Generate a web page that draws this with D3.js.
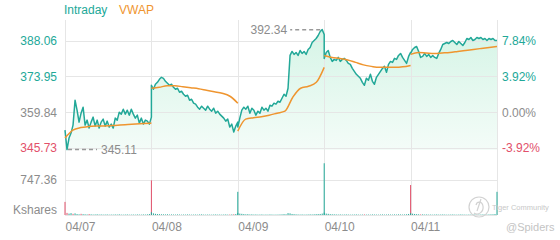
<!DOCTYPE html>
<html>
<head>
<meta charset="utf-8">
<script src="https://cdn.jsdelivr.net/npm/d3@7"></script>
<style>
  body { margin: 0; background: #fff; }
  svg { font-family: "Liberation Sans", Arial, sans-serif; }
</style>
</head>
<body>
<svg id="chart"></svg>
<script>
const days = ['04/07', '04/08', '04/09', '04/10', '04/11'];
const prevClose = 359.84;
const priceTicks = [388.06, 373.95, 359.84, 345.73];
const pctTicks = ['7.84%', '3.92%', '0.00%', '-3.92%'];
const volumeTick = 747.36;

// intraday price, 44 samples per session
const price1 = [352.78, 345.11, 349.65, 351.61, 354.74, 364.54, 360.62, 355.92, 359.45, 361.80, 354.74, 356.70, 353.57, 355.92, 357.88, 354.35, 356.70, 353.57, 355.92, 357.10, 354.35, 356.31, 353.96, 355.14, 353.57, 357.49, 356.70, 359.84, 359.06, 361.02, 359.06, 360.62, 358.66, 361.02, 359.06, 357.49, 358.66, 355.53, 357.49, 355.14, 356.70, 356.31, 355.14, 357.88];
const price2 = [370.42, 368.86, 370.82, 371.60, 372.78, 373.56, 373.17, 371.99, 371.21, 370.42, 370.82, 369.64, 368.86, 369.25, 367.68, 368.07, 366.90, 366.11, 366.50, 364.54, 364.94, 363.37, 362.98, 361.80, 361.02, 362.19, 361.41, 360.62, 362.19, 361.02, 360.23, 361.41, 359.45, 360.23, 359.06, 358.27, 357.49, 356.31, 357.10, 353.96, 355.14, 352.00, 354.35, 355.92];
const price3 = [353.96, 357.49, 360.62, 361.80, 361.02, 362.19, 359.45, 361.41, 360.62, 358.66, 360.23, 359.45, 361.80, 360.62, 361.41, 360.23, 362.58, 362.19, 363.37, 362.98, 364.15, 363.76, 365.33, 366.90, 366.11, 369.25, 382.18, 383.75, 382.58, 383.36, 382.18, 384.14, 382.97, 383.75, 382.58, 384.54, 385.32, 387.28, 388.06, 388.85, 390.02, 391.59, 392.34, 390.42];
const price4 = [381.01, 383.36, 384.14, 381.40, 379.83, 380.62, 380.22, 381.40, 379.83, 380.62, 381.01, 380.22, 379.05, 378.66, 377.09, 375.91, 374.74, 373.95, 373.17, 371.60, 370.42, 373.17, 372.38, 374.74, 371.99, 370.82, 373.56, 374.74, 375.91, 377.09, 377.87, 375.52, 378.66, 379.83, 379.44, 381.01, 380.62, 382.18, 382.97, 381.40, 380.22, 379.05, 381.79, 383.36];
const price5 = [382.97, 384.54, 385.32, 385.71, 383.75, 381.40, 381.79, 382.97, 381.79, 382.58, 381.40, 382.18, 381.40, 381.01, 382.97, 384.54, 386.50, 386.89, 387.28, 386.89, 387.67, 388.06, 387.28, 386.50, 387.67, 386.89, 386.10, 387.28, 388.85, 388.46, 389.24, 388.06, 388.46, 389.24, 388.85, 389.24, 388.46, 388.85, 388.06, 388.85, 388.46, 388.85, 388.06, 388.06];

// VWAP, resets every session
const vwap1 = [349.65, 352.78, 353.76, 354.16, 354.35, 354.43, 354.55, 354.74, 354.94, 355.14, 355.33, 355.53];
const vwap2 = [369.25, 369.64, 370.23, 370.23, 369.84, 369.44, 369.05, 368.46, 367.88, 367.29, 366.11, 363.37];
const vwap3 = [352.39, 357.10, 357.68, 358.08, 358.66, 359.45, 360.23, 365.72, 369.25, 370.03, 371.60, 377.48];
const vwap4 = [382.18, 381.40, 381.01, 380.42, 379.44, 378.46, 377.87, 377.48, 377.48, 377.48, 377.68, 378.26];
const vwap5 = [382.58, 383.36, 383.16, 382.97, 383.16, 383.36, 383.75, 384.14, 384.54, 384.93, 385.32, 385.71];

// volume in Kshares, same samples as price
const vol1 = [280, 45, 30, 40, 25, 35, 20, 15, 25, 18, 15, 12, 20, 14, 10, 12, 15, 10, 12, 9, 10, 12, 8, 10, 9, 12, 10, 14, 9, 8, 10, 12, 8, 9, 10, 8, 12, 10, 9, 12, 10, 14, 20, 740];
const vol2 = [60, 35, 25, 20, 18, 15, 14, 12, 15, 10, 12, 10, 9, 12, 10, 8, 10, 9, 12, 10, 8, 9, 10, 8, 12, 14, 9, 8, 10, 9, 8, 10, 12, 9, 10, 8, 10, 12, 9, 10, 12, 15, 20, 495];
const vol3 = [45, 30, 25, 20, 15, 18, 12, 14, 10, 12, 9, 10, 12, 8, 10, 9, 12, 10, 8, 9, 10, 12, 14, 18, 15, 40, 35, 22, 18, 14, 12, 10, 12, 9, 10, 12, 14, 12, 15, 18, 20, 22, 30, 1105];
const vol4 = [50, 30, 25, 18, 15, 14, 12, 10, 12, 9, 10, 12, 10, 8, 9, 10, 12, 9, 8, 10, 12, 9, 10, 8, 12, 10, 9, 8, 10, 12, 9, 10, 12, 10, 9, 12, 10, 14, 12, 10, 12, 15, 22, 640];
const vol5 = [40, 28, 22, 18, 15, 12, 14, 10, 12, 9, 10, 8, 10, 12, 9, 10, 12, 10, 8, 9, 10, 12, 9, 8, 10, 12, 10, 9, 8, 10, 9, 12, 10, 8, 9, 10, 12, 10, 9, 12, 14, 15, 20, 495];
// [session, sample] of bars drawn red
const volDown = [[0, 0], [0, 1], [0, 4], [0, 8], [0, 12], [0, 43], [1, 39], [1, 41], [3, 20], [3, 43], [4, 5]];

const prices = [price1, price2, price3, price4, price5];
const vwaps = [vwap1, vwap2, vwap3, vwap4, vwap5];
const volumes = [vol1, vol2, vol3, vol4, vol5];

const teal = '#22a898', orange = '#ef952f', red = '#e2506a', grey = '#8c8c8c', grid = '#e6e6e6';
const W = 560, H = 240;
const plotLeft = 65, plotRight = 497, plotTop = 20, priceBottom = 150, volTop = 145, volBottom = 215;

const svg = d3.select('#chart').attr('width', W).attr('height', H);

const x = d3.scaleLinear().domain([0, days.length]).range([plotLeft, plotRight]);
const y = d3.scaleLinear().domain([priceTicks[3], priceTicks[0]]).range([148, 40.5]);
const yVol = d3.scaleLinear().domain([0, volumeTick * 2]).range([volBottom, volTop]);

const tone = p => p > prevClose ? teal : p < prevClose ? red : grey;

const points = prices.flatMap((day, d) => day.map((p, i) => ({
  t: d + i / (day.length - 1),
  p,
  v: volumes[d][i],
  down: volDown.some(([dd, ii]) => dd === d && ii === i)
})));

// fill gradient
const grad = svg.append('defs').append('linearGradient')
  .attr('id', 'fill').attr('gradientUnits', 'userSpaceOnUse')
  .attr('x1', 0).attr('x2', 0).attr('y1', plotTop).attr('y2', priceBottom);
grad.append('stop').attr('offset', 0).attr('stop-color', '#d3f4e5');
grad.append('stop').attr('offset', 1).attr('stop-color', '#f4fcf8');

svg.append('path')
  .datum(points)
  .attr('fill', 'url(#fill)')
  .attr('d', d3.area().x(d => x(d.t)).y0(priceBottom).y1(d => y(d.p)));

// grid
const gridG = svg.append('g').attr('stroke', grid).attr('stroke-width', 1);
gridG.selectAll('.v')
  .data(d3.range(days.length + 1))
  .enter().append('line')
  .attr('x1', d => Math.round(x(d)) + 0.5).attr('x2', d => Math.round(x(d)) + 0.5)
  .attr('y1', plotTop).attr('y2', volBottom);
gridG.selectAll('.h')
  .data(priceTicks.map(y).concat([yVol(volumeTick), yVol(0)]))
  .enter().append('line')
  .attr('x1', plotLeft).attr('x2', plotRight)
  .attr('y1', d => Math.round(d) + 0.5).attr('y2', d => Math.round(d) + 0.5);

// volume bars
svg.append('g')
  .selectAll('rect')
  .data(points)
  .enter().append('rect')
  .attr('x', d => x(d.t) - 0.5)
  .attr('width', 1)
  .attr('y', d => yVol(d.v))
  .attr('height', d => yVol(0) - yVol(d.v))
  .attr('fill', d => d.down ? red : teal);

// price line
svg.append('path')
  .datum(points)
  .attr('fill', 'none')
  .attr('stroke', teal)
  .attr('stroke-width', 1.5)
  .attr('stroke-linejoin', 'round')
  .attr('d', d3.line().x(d => x(d.t)).y(d => y(d.p)));

// vwap lines
const vwapLine = d3.line().x(d => x(d.t)).y(d => y(d.p)).curve(d3.curveMonotoneX);
svg.append('g')
  .selectAll('path')
  .data(vwaps.map((day, d) => day.map((p, i) => ({t: d + i / (day.length - 1), p}))))
  .enter().append('path')
  .attr('fill', 'none')
  .attr('stroke', orange)
  .attr('stroke-width', 1.5)
  .attr('d', vwapLine);

// high / low markers
const hi = d3.greatest(points, d => d.p);
const lo = d3.least(points, d => d.p);
const marker = svg.append('g').attr('font-size', 12).attr('fill', grey);
marker.append('line')
  .attr('x1', x(hi.t) - 2).attr('x2', x(hi.t) - 32)
  .attr('y1', y(hi.p)).attr('y2', y(hi.p))
  .attr('stroke', '#999').attr('stroke-width', 1.5).attr('stroke-dasharray', '4,3');
marker.append('text')
  .attr('x', x(hi.t) - 35).attr('y', y(hi.p)).attr('dy', '0.35em')
  .attr('text-anchor', 'end').text(hi.p.toFixed(2));
marker.append('line')
  .attr('x1', x(lo.t) + 1).attr('x2', x(lo.t) + 30)
  .attr('y1', y(lo.p)).attr('y2', y(lo.p))
  .attr('stroke', '#999').attr('stroke-width', 1.5).attr('stroke-dasharray', '4,3');
marker.append('text')
  .attr('x', x(lo.t) + 34).attr('y', y(lo.p)).attr('dy', '0.35em')
  .text(lo.p.toFixed(2));

// axes
const leftAxis = svg.append('g')
  .attr('transform', `translate(${plotLeft},0)`)
  .call(d3.axisLeft(y).tickValues(priceTicks).tickSize(0).tickPadding(8).tickFormat(d3.format('.2f')));
const rightAxis = svg.append('g')
  .attr('transform', `translate(${plotRight},0)`)
  .call(d3.axisRight(y).tickValues(priceTicks).tickSize(0).tickPadding(5).tickFormat((d, i) => pctTicks[i]));
[leftAxis, rightAxis].forEach(g => {
  g.select('.domain').remove();
  g.attr('font-family', null).attr('font-size', 12);
  g.selectAll('text').attr('fill', d => tone(d));
});

const volAxis = svg.append('g')
  .attr('transform', `translate(${plotLeft},0)`)
  .call(d3.axisLeft(yVol).tickValues([volumeTick]).tickSize(0).tickPadding(8).tickFormat(d3.format('.2f')));
volAxis.select('.domain').remove();
volAxis.attr('font-family', null).attr('font-size', 12);
volAxis.selectAll('text').attr('fill', grey);
svg.append('text')
  .attr('x', plotLeft - 8).attr('y', 210).attr('dy', '0.35em')
  .attr('text-anchor', 'end').attr('font-size', 12).attr('fill', grey)
  .text('Kshares');

const xAxis = svg.append('g')
  .attr('transform', `translate(0,${volBottom})`)
  .call(d3.axisBottom(x).tickValues(d3.range(days.length)).tickSize(0).tickPadding(7.5).tickFormat(i => days[i]));
xAxis.select('.domain').remove();
xAxis.attr('font-family', null).attr('font-size', 12);
xAxis.selectAll('text').attr('fill', grey).attr('text-anchor', 'start');

// legend
const legend = svg.append('g').attr('font-size', 12);
legend.append('text').attr('x', plotLeft - 1).attr('y', 10).attr('dy', '0.35em').attr('fill', teal).text('Intraday');
legend.append('text').attr('x', 119).attr('y', 10).attr('dy', '0.35em').attr('fill', orange).text('VWAP');

// watermark
const mark = svg.append('g').attr('fill', 'none').attr('stroke', '#d2d2d2').attr('stroke-width', 1.2);
mark.append('circle').attr('cx', 479).attr('cy', 207).attr('r', 10);
mark.append('path').attr('d', 'M474,213 C478,216 484,212 483,206 C482,201 477,201 476,205 M481,199 L477,211');
svg.append('text').attr('x', 492).attr('y', 209.5).attr('font-size', 7.5).attr('fill', '#c8c8c8').text('Tiger Community');
svg.append('text').attr('x', 506).attr('y', 231).attr('font-size', 11).attr('fill', '#c4c4c4').text('@Spiders');
</script>
</body>
</html>
